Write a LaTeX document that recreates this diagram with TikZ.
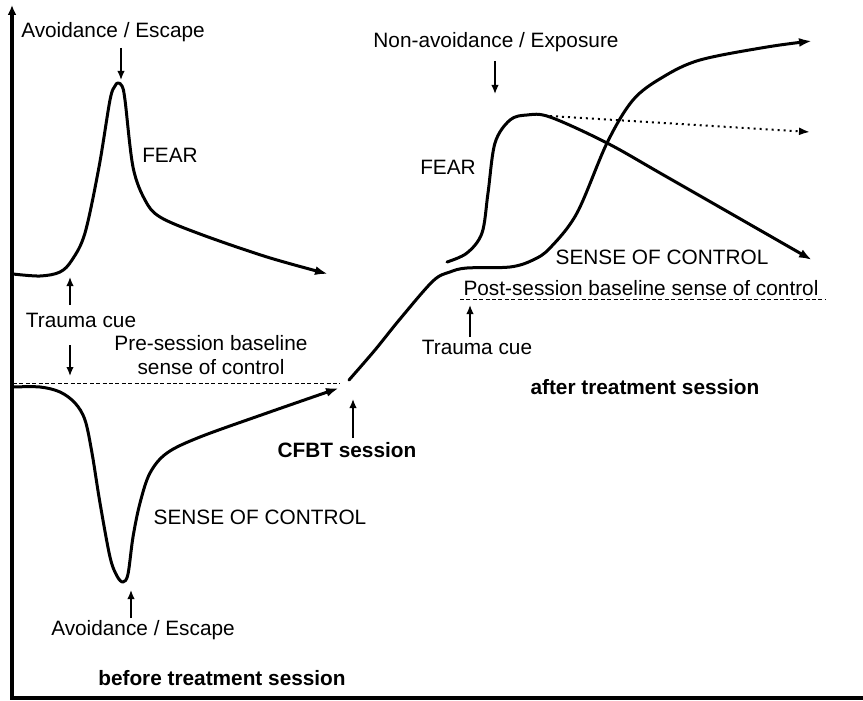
\documentclass[tikz,border=0pt]{standalone}
\usepackage{fontspec}
\setmainfont{Liberation Sans}
\usetikzlibrary{arrows.meta}

\tikzset{
    lbl/.style={font=\fontsize{10.4}{12}\selectfont, inner sep=0pt, align=center},
    boldlbl/.style={lbl, font=\fontsize{10.4}{12}\selectfont\bfseries},
    curve/.style={line width=1.5pt, line cap=round, line join=round,
        -{Latex[length=6.5pt, width=4.5pt]}},
    cue/.style={line width=0.8pt, -{Latex[length=4.5pt, width=3.8pt]}},
    baseline/.style={line width=0.4pt, dash pattern=on 2pt off 1.2pt}
}

\begin{document}
\begin{tikzpicture}[x=0.5pt, y=-0.5pt]
    \useasboundingbox (0, 0) rectangle (863, 701);

    % Draw axes
    \coordinate (origin) at (12, 698);
    \coordinate (ytop) at (12, 5);
    \coordinate (xend) at (863, 698);
    \draw[line width=2pt, -{Latex[length=5pt, width=4.5pt]}] (origin) -- (ytop);
    \draw[line width=2pt] ([xshift=-1pt]origin) -- (xend);

    % Before treatment: fear curve
    \draw[curve] plot[smooth, tension=0.55] coordinates {
        (13, 274) (40, 276) (60, 272) (72, 260) (85, 233) (99, 167) (110, 100)
        (115, 86) (118, 83) (122, 86) (125, 100) (133, 167) (145, 200)
        (160, 217) (200, 234) (267, 257) (328, 274)};

    % Before treatment: sense of control curve
    \draw[curve] plot[smooth, tension=0.55] coordinates {
        (13, 387) (40, 387) (60, 392) (75, 403) (85, 420) (92, 453) (100, 503)
        (110, 557) (117, 576) (123, 582) (128, 574) (133, 537) (140, 503)
        (150, 473) (167, 453) (200, 437) (267, 413) (339, 388)};

    % Pre-session baseline
    \coordinate (preStart) at (13, 383);
    \coordinate (preEnd) at (340, 383);
    \draw[baseline] (preStart) -- (preEnd);

    % After treatment: sense of control curve
    \draw[curve] plot[smooth, tension=0.55] coordinates {
        (349, 380) (375, 350) (400, 319) (433, 281) (450, 272) (467, 268)
        (510, 267) (533, 260) (550, 248) (577, 213) (607, 143) (633, 100)
        (663, 77) (700, 60) (767, 47) (812, 41)};

    % After treatment: fear curve
    \draw[curve] plot[smooth, tension=0.55] coordinates {
        (447, 262) (467, 253) (482, 233) (488, 193) (495, 143) (510, 120)
        (527, 115) (550, 117) (607, 143) (667, 177) (812, 260)};
    \coordinate (fearTop) at (550, 116);
    \coordinate (fearFlat) at (810, 132);
    \draw[line width=1pt, dotted, -{Latex[length=5.5pt, width=4pt]}] (fearTop) -- (fearFlat);

    % Post-session baseline
    \coordinate (postStart) at (460, 299);
    \coordinate (postEnd) at (825, 299);
    \draw[baseline] (postStart) -- (postEnd);

    % Labels
    \node[lbl] (avoidTop) at (113, 32) {Avoidance / Escape};
    \node[lbl] (fearPre) at (170, 155) {FEAR};
    \node[lbl] (cuePre) at (81, 320) {Trauma cue};
    \node[lbl] (baselinePre) at (211, 355) {Pre-session baseline\\sense of control};
    \node[lbl] (socPre) at (260, 517) {SENSE OF CONTROL};
    \node[lbl] (avoidBottom) at (143, 630) {Avoidance / Escape};
    \node[boldlbl] (beforeLbl) at (222, 678) {before treatment session};
    \node[boldlbl] (cfbtLbl) at (347, 450) {CFBT session};
    \node[lbl] (exposureLbl) at (496, 42) {Non-avoidance / Exposure};
    \node[lbl] (fearPost) at (448, 167) {FEAR};
    \node[lbl] (socPost) at (662, 257) {SENSE OF CONTROL};
    \node[lbl] (baselinePost) at (641, 288) {Post-session baseline sense of control};
    \node[lbl] (cuePost) at (477, 347) {Trauma cue};
    \node[boldlbl] (afterLbl) at (645, 387) {after treatment session};

    % Cue arrows
    \coordinate (peakPre) at (121, 80);
    \coordinate (peakPreTail) at (121, 48);
    \draw[cue] (peakPreTail) -- (peakPre);
    \coordinate (cuePreUp) at (70, 277);
    \coordinate (cuePreUpTail) at (70, 305);
    \draw[cue] (cuePreUpTail) -- (cuePreUp);
    \coordinate (cuePreDown) at (70, 376);
    \coordinate (cuePreDownTail) at (70, 345);
    \draw[cue] (cuePreDownTail) -- (cuePreDown);
    \coordinate (dipPre) at (131, 590);
    \coordinate (dipPreTail) at (131, 618);
    \draw[cue] (dipPreTail) -- (dipPre);
    \coordinate (session) at (353, 399);
    \coordinate (sessionTail) at (353, 438);
    \draw[cue] (sessionTail) -- (session);
    \coordinate (exposure) at (495, 94);
    \coordinate (exposureTail) at (495, 61);
    \draw[cue] (exposureTail) -- (exposure);
    \coordinate (cuePostUp) at (470, 305);
    \coordinate (cuePostTail) at (470, 337);
    \draw[cue] (cuePostTail) -- (cuePostUp);
\end{tikzpicture}
\end{document}
